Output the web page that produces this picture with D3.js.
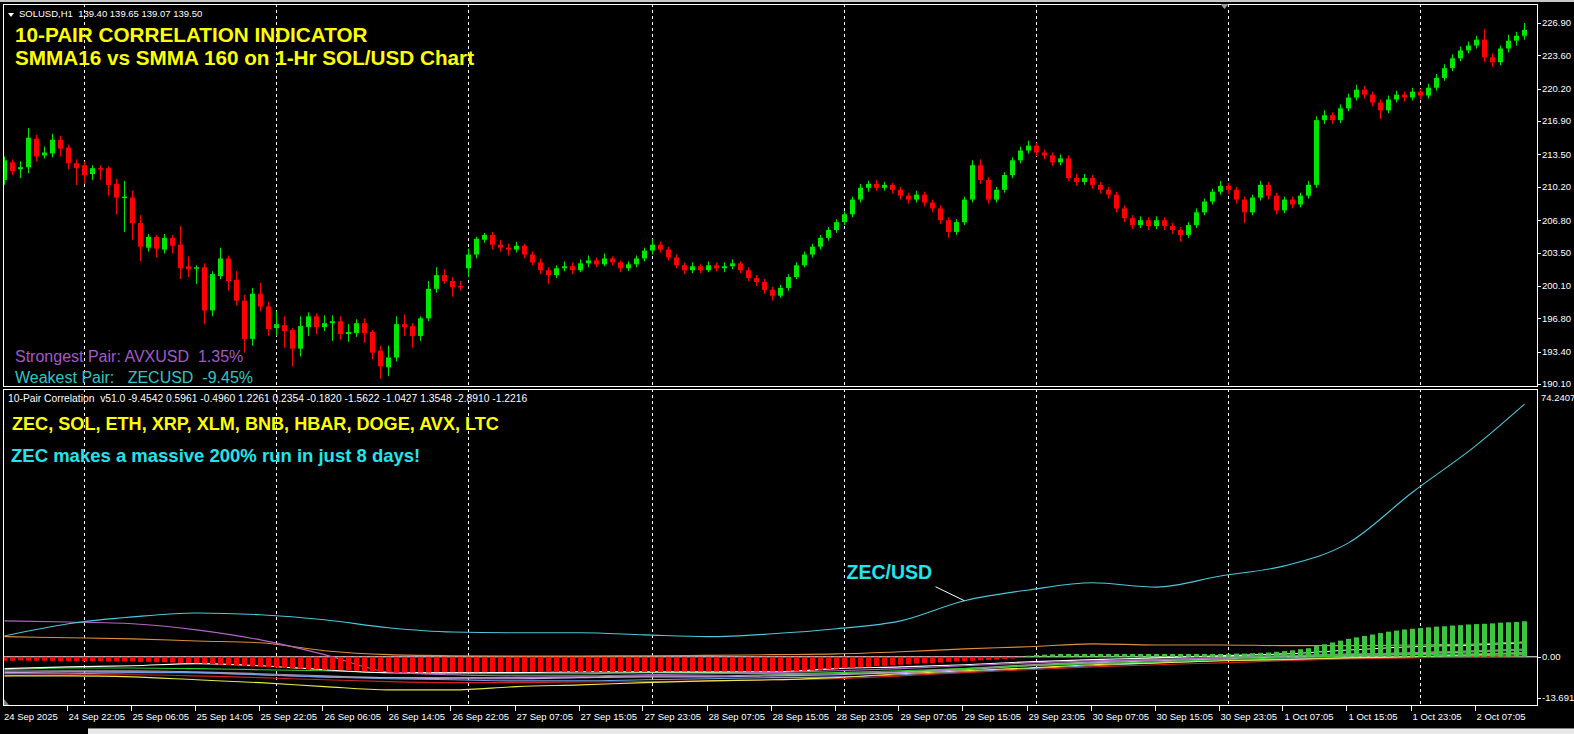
<!DOCTYPE html>
<html><head><meta charset="utf-8">
<script src="https://cdn.jsdelivr.net/npm/d3@7"></script>
<style>
html,body{margin:0;padding:0;background:#000;overflow:hidden}
svg{display:block}
text{font-family:"Liberation Sans",Arial,sans-serif}
</style></head><body>
<svg id="c" width="1574" height="734"></svg>
<script>
// ---------- DATA ----------
// SOLUSD H1 candles [open, high, low, close]
const candles = [
[210.9,213.3,210.4,212.9],[212.7,213.0,211.4,211.8],[212.0,212.8,211.1,212.2],[212.2,216.2,211.6,215.2],[215.1,215.5,212.8,213.3],
[213.4,214.3,213.1,213.7],[213.6,215.6,213.2,215.0],[215.0,215.4,213.3,214.1],[214.2,214.5,212.0,212.6],[212.6,213.0,210.4,212.1],
[212.4,212.8,210.5,211.4],[211.5,212.4,210.9,212.1],[212.1,212.4,210.9,212.0],[212.1,212.3,209.3,210.4],[210.5,211.0,207.4,209.1],
[209.1,210.8,205.6,209.2],[209.1,209.8,204.8,206.5],[206.5,207.3,202.6,204.1],[204.0,205.4,203.6,205.1],[205.1,205.3,203.0,203.9],
[203.8,205.4,203.4,205.0],[205.0,205.3,203.4,204.2],[204.3,206.2,200.8,201.9],[202.1,203.1,201.0,201.8],[201.9,202.2,200.3,202.0],
[202.0,202.4,196.2,197.6],[197.6,201.6,197.0,201.3],[201.1,204.0,200.8,202.9],[202.9,203.2,199.6,200.6],[200.7,201.6,198.1,198.6],
[198.6,199.2,193.3,194.7],[194.7,199.9,194.0,199.3],[199.3,200.4,197.5,198.0],[198.0,198.5,195.0,195.7],[195.8,197.5,195.0,196.2],
[196.1,197.0,193.8,195.5],[195.6,195.8,191.9,193.7],[193.7,197.0,192.9,196.0],[195.9,197.4,195.0,197.0],[197.0,197.3,195.2,195.9],
[195.9,197.1,195.5,196.3],[196.3,197.1,194.5,196.5],[196.5,197.0,194.6,195.2],[195.2,196.2,194.4,195.4],[195.3,196.7,194.9,196.3],
[196.3,196.8,194.3,195.3],[195.4,195.6,192.6,193.3],[193.5,194.0,190.6,191.9],[191.8,194.0,190.9,192.8],[192.8,197.0,192.4,196.2],
[196.2,197.2,195.0,195.9],[196.0,196.3,193.8,195.0],[195.0,197.0,194.5,196.8],[196.8,200.6,196.5,199.8],[199.8,202.0,199.4,201.2],
[201.2,201.8,200.3,200.6],[200.6,201.0,199.0,200.0],[200.1,200.6,199.6,200.0],[201.9,203.9,201.0,203.3],[203.3,205.1,202.9,204.9],
[204.8,205.5,204.5,205.3],[205.3,205.6,203.8,204.3],[204.3,204.8,203.6,204.0],[204.0,204.4,203.2,203.8],[203.8,204.6,203.5,204.2],
[204.2,204.4,202.9,203.3],[203.3,203.6,202.2,202.5],[202.5,202.9,201.3,201.7],[201.7,202.0,200.3,201.2],[201.2,202.2,200.9,201.9],
[201.9,202.6,201.6,202.1],[202.1,202.5,201.3,201.7],[201.7,202.8,201.5,202.4],[202.4,203.2,202.0,202.7],[202.7,203.0,202.0,202.3],
[202.3,203.4,202.1,202.9],[202.9,203.1,202.2,202.5],[202.5,202.7,201.5,201.9],[201.9,202.6,201.6,202.3],[202.3,203.2,202.0,202.9],
[202.9,204.0,202.6,203.7],[203.7,204.9,203.3,204.3],[204.3,204.6,203.5,203.8],[203.8,204.1,202.7,203.0],[203.0,203.3,201.9,202.2],
[202.2,202.5,201.3,201.7],[201.7,202.5,201.4,202.1],[202.1,202.3,201.4,201.7],[201.7,202.6,201.5,202.2],[202.2,202.5,201.6,201.9],
[201.9,202.5,201.5,202.1],[202.1,202.8,201.8,202.4],[202.4,202.6,201.4,201.7],[201.7,202.0,200.6,200.9],[200.9,201.2,200.1,200.5],
[200.5,200.8,199.3,199.7],[199.7,200.0,198.6,199.1],[199.1,200.2,198.9,199.9],[199.9,201.3,199.6,201.0],[201.0,202.5,200.8,202.2],
[202.2,203.6,202.0,203.3],[203.3,204.4,203.0,204.1],[204.1,205.3,203.8,205.0],[205.0,206.1,204.7,205.8],[205.8,206.9,205.5,206.6],
[206.6,207.7,206.3,207.4],[207.4,209.2,207.1,208.9],[208.9,210.5,208.6,210.1],[210.1,210.8,209.7,210.5],[210.5,210.9,209.8,210.1],
[210.1,210.7,209.8,210.4],[210.4,210.6,209.5,209.9],[209.9,210.2,208.9,209.3],[209.3,209.6,208.5,208.9],[208.9,209.8,208.6,209.4],
[209.4,209.7,208.2,208.6],[208.6,208.9,207.6,208.0],[208.0,208.3,206.4,206.8],[206.8,207.1,205.0,205.6],[205.6,206.9,205.3,206.6],
[206.6,209.2,206.3,208.9],[208.9,212.9,208.6,212.4],[212.4,213.0,210.5,210.9],[210.9,211.2,208.5,208.9],[208.9,210.2,208.6,209.9],
[209.9,211.7,209.6,211.4],[211.4,213.2,211.1,212.9],[212.9,214.3,212.6,213.9],[213.9,214.9,213.6,214.4],[214.4,214.7,213.3,213.7],
[213.7,214.0,213.0,213.4],[213.4,213.7,212.3,212.7],[212.7,213.5,212.4,213.1],[213.1,213.4,210.8,211.1],[211.1,211.5,210.3,210.7],
[210.7,211.5,210.4,211.1],[211.1,211.4,210.0,210.4],[210.4,210.7,209.5,209.9],[209.9,210.2,209.0,209.4],[209.4,209.7,207.6,208.0],
[208.0,208.3,206.6,207.0],[207.0,207.3,205.9,206.3],[206.3,207.2,206.0,206.8],[206.8,207.1,205.8,206.2],[206.2,207.2,205.9,206.8],
[206.8,207.1,205.8,206.2],[206.2,206.5,205.4,205.8],[205.8,206.1,204.6,205.3],[205.3,206.6,205.0,206.3],[206.3,208.0,206.0,207.6],
[207.6,209.0,207.3,208.7],[208.7,210.0,208.4,209.7],[209.7,210.8,209.4,210.3],[210.3,210.6,209.5,209.9],[209.9,210.2,208.5,208.9],
[208.9,209.2,206.5,207.6],[207.6,209.4,207.3,209.1],[209.1,210.8,208.8,210.4],[210.4,210.7,208.9,209.3],[209.3,209.6,207.4,207.8],
[207.8,209.2,207.5,208.9],[208.9,209.2,208.0,208.4],[208.4,209.6,208.1,209.3],[209.3,210.8,209.0,210.4],[210.4,217.4,210.1,217.0],
[217.0,218.0,216.6,217.5],[217.5,217.8,216.6,217.0],[217.0,218.6,216.7,218.2],[218.2,219.7,217.9,219.3],[219.3,220.6,219.0,220.1],
[220.1,220.5,219.2,219.6],[219.6,219.9,218.4,218.8],[218.8,219.1,217.1,218.0],[218.0,219.5,217.7,219.1],[219.1,220.0,218.8,219.6],
[219.6,219.9,218.9,219.3],[219.3,220.3,219.0,219.9],[219.9,220.2,219.1,219.5],[219.5,220.7,219.2,220.3],[220.3,221.7,220.0,221.3],
[221.3,222.7,221.0,222.3],[222.3,223.7,222.0,223.3],[223.3,224.5,223.0,224.1],[224.1,225.0,223.8,224.6],[224.6,225.6,224.3,225.2],
[225.2,226.3,222.9,223.4],[223.4,223.8,222.4,222.9],[222.9,224.6,222.6,224.3],[224.3,225.7,223.9,225.1],[225.1,226.0,224.6,225.6],
[225.6,226.9,225.2,226.2]
];

// Correlation histogram (one value per bar)
const histogram = [
-1.1,-1.1,-1.0,-1.1,-1.1,-1.1,-1.1,-1.2,-1.2,-1.2,
-1.2,-1.2,-1.2,-1.3,-1.3,-1.3,-1.3,-1.4,-1.4,-1.5,
-1.5,-1.6,-1.7,-1.7,-1.8,-1.9,-2.0,-2.2,-2.3,-2.4,
-2.6,-2.7,-2.8,-2.9,-3.0,-3.1,-3.2,-3.3,-3.4,-3.5,
-3.6,-3.6,-3.7,-3.8,-3.9,-4.0,-4.1,-4.2,-4.3,-4.4,
-4.4,-4.4,-4.4,-4.4,-4.3,-4.3,-4.3,-4.3,-4.3,-4.3,
-4.3,-4.2,-4.2,-4.2,-4.2,-4.2,-4.2,-4.2,-4.2,-4.2,
-4.2,-4.2,-4.2,-4.2,-4.2,-4.2,-4.2,-4.2,-4.2,-4.2,
-4.2,-4.2,-4.2,-4.1,-4.1,-4.1,-4.1,-4.1,-4.1,-4.1,
-4.1,-4.1,-4.1,-4.1,-4.1,-4.1,-4.1,-4.1,-4.0,-4.0,
-3.9,-3.8,-3.6,-3.4,-3.3,-3.1,-3.0,-2.9,-2.8,-2.6,
-2.5,-2.3,-2.2,-2.1,-1.9,-1.8,-1.7,-1.6,-1.4,-1.3,
-1.2,-1.1,-1.0,-0.9,-0.8,-0.6,-0.5,-0.3,0.3,0.5,
0.6,0.7,0.8,0.8,0.8,0.8,0.8,0.8,0.8,0.8,
0.8,0.8,0.8,0.8,0.8,0.8,0.8,0.8,0.8,0.8,
0.8,0.8,0.8,0.8,0.9,0.9,1.0,1.1,1.2,1.4,
1.6,1.8,2.1,2.4,3.0,3.5,4.0,4.5,5.0,5.4,
5.8,6.2,6.6,7.0,7.3,7.6,7.8,8.0,8.2,8.4,
8.5,8.7,8.8,9.0,9.1,9.2,9.3,9.5,9.6,9.7,
9.9
];

// Pair lines, sampled every 8 bars
const sampleBars = [0,8,16,24,32,40,48,56,64,72,80,88,96,104,112,120,128,136,144,152,160,168,176,184,190];
const pairNames  = ["ZEC","SOL","ETH","XRP","XLM","BNB","HBAR","DOGE","AVX","LTC"];
const pairColors = ["#4cc8da","#e08c3c","#ffffff","#33cc33","#e8e84a","#cc2222","#6aa0e6","#c8a0e0","#b464c8","#9a9a9a"];
const zecValues  = [5.8,9.2,11.1,12.2,11.7,10.3,8.1,6.9,6.7,6.7,6.1,5.6,6.4,7.8,10.0,15.6,18.6,20.6,19.4,22.5,25.3,31.7,45.8,58.9,70.3];
const solValues  = [5.6,5.3,5.0,4.4,3.9,1.7,0.6,0.3,0.2,0.2,0.3,0.4,0.6,0.8,1.4,2.2,2.8,3.6,3.3,3.3,3.1,3.1,3.3,3.6,4.2];
const ethValues  = [-3.3,-2.8,-2.5,-1.9,-2.5,-3.6,-4.4,-4.4,-4.4,-4.2,-4.2,-4.2,-4.2,-3.3,-2.8,-2.2,-1.4,-0.8,-0.3,0.3,0.8,1.9,2.8,3.3,3.9];
const xrpValues  = [-3.6,-3.1,-3.1,-3.3,-3.6,-3.9,-4.4,-4.7,-4.7,-4.7,-4.4,-4.4,-4.7,-4.4,-3.9,-3.3,-2.5,-1.9,-1.4,-0.8,-0.3,0.3,0.6,0.8,1.1];
const xlmValues  = [-5.3,-5.3,-5.6,-6.4,-7.2,-8.3,-9.2,-9.2,-8.3,-7.8,-7.2,-6.7,-6.4,-5.8,-4.7,-3.9,-3.1,-2.2,-1.7,-1.1,-0.8,-0.3,0.0,0.6,1.1];
const bnbValues  = [-5.3,-5.0,-5.0,-5.3,-5.8,-6.4,-6.9,-7.2,-7.2,-7.0,-6.9,-6.7,-6.4,-6.1,-5.3,-4.4,-3.6,-2.8,-2.2,-1.7,-1.1,-0.6,-0.3,0.0,0.3];
const hbarValues = [-4.7,-4.7,-4.4,-4.4,-5.0,-5.6,-6.1,-6.4,-6.7,-6.7,-6.4,-6.1,-5.8,-5.6,-5.0,-4.2,-3.3,-2.5,-1.7,-1.1,-0.6,-0.3,0.0,0.3,0.6];
const dogeValues = [-4.4,-4.2,-4.2,-4.4,-5.0,-5.6,-5.8,-6.1,-6.1,-5.8,-5.6,-5.6,-5.3,-5.0,-4.4,-3.6,-2.5,-1.7,-1.1,-0.6,0.0,0.3,0.8,1.4,1.9];
const avxValues  = [10.0,9.7,9.2,7.5,4.7,0.6,-4.2,-5.0,-5.3,-5.3,-5.0,-4.7,-4.4,-3.9,-3.3,-2.5,-1.7,-1.1,-0.8,-0.3,0.3,0.8,1.1,1.7,1.9];
const ltcValues  = [-4.0,-3.9,-3.9,-4.2,-4.7,-5.3,-5.8,-5.8,-5.8,-5.6,-5.3,-5.3,-5.0,-4.7,-4.2,-3.3,-2.2,-1.4,-0.8,-0.3,0.3,0.6,1.1,1.7,2.2];

// Axes
const priceTicks = [226.90,223.60,220.20,216.90,213.50,210.20,206.80,203.50,200.10,196.80,193.40,190.10];
const priceDomain = [190.10,226.90];
const indDomain = [-13.691,74.2407];
const timeLabels = ["24 Sep 2025","24 Sep 22:05","25 Sep 06:05","25 Sep 14:05","25 Sep 22:05","26 Sep 06:05","26 Sep 14:05","26 Sep 22:05","27 Sep 07:05","27 Sep 15:05","27 Sep 23:05","28 Sep 07:05","28 Sep 15:05","28 Sep 23:05","29 Sep 07:05","29 Sep 15:05","29 Sep 23:05","30 Sep 07:05","30 Sep 15:05","30 Sep 23:05","1 Oct 07:05","1 Oct 15:05","1 Oct 23:05","2 Oct 07:05"];
const timeLabelBars = [0,8,16,24,32,40,48,56,64,72,80,88,96,104,112,120,128,136,144,152,160,168,176,184];
const daySeparatorBars = [10,34,58,81,105,129,153,177];

// Texts
const chartHeader = "SOLUSD,H1  139.40 139.65 139.07 139.50";
const titleLines = ["10-PAIR CORRELATION INDICATOR","SMMA16 vs SMMA 160 on 1-Hr SOL/USD Chart"];
const strongestText = "Strongest Pair: AVXUSD  1.35%";
const weakestText = "Weakest Pair:   ZECUSD  -9.45%";
const indicatorHeader = "10-Pair Correlation  v51.0 -9.4542 0.5961 -0.4960 1.2261 0.2354 -0.1820 -1.5622 -1.0427 1.3548 -2.8910 -1.2216";
const pairsLine = "ZEC, SOL, ETH, XRP, XLM, BNB, HBAR, DOGE, AVX, LTC";
const zecNote = "ZEC makes a massive 200% run in just 8 days!";
const zecAnnotation = {text:"ZEC/USD", bar:120, value:15.6};

// ---------- DRAW ----------
const svg = d3.select("#c");
const W = 1574;
const mainTop = 4, mainBottom = 386, indTop = 389, indBottom = 705, plotLeft = 3, plotRight = 1537;

const x = d3.scaleLinear().domain([0,190]).range([4.5,1524.5]);
const yP = d3.scaleLinear().domain(priceDomain).range([384,23]);
const yI = d3.scaleLinear().domain(indDomain).range([706,390]);

svg.append("rect").attr("x",0).attr("y",0).attr("width",W).attr("height",734).attr("fill","#000");
svg.append("rect").attr("x",0).attr("y",0).attr("width",W).attr("height",2).attr("fill","#c8c8c8");

svg.append("clipPath").attr("id","cm").append("rect")
  .attr("x",plotLeft).attr("y",mainTop).attr("width",plotRight-plotLeft).attr("height",mainBottom-mainTop);
svg.append("clipPath").attr("id","ci").append("rect")
  .attr("x",plotLeft).attr("y",indTop).attr("width",plotRight-plotLeft).attr("height",indBottom-indTop);

// separators
const sepG = svg.append("g");
[[mainTop,mainBottom],[indTop,indBottom]].forEach(([a,b])=>{
  sepG.selectAll(null).data(daySeparatorBars).enter().append("line")
    .attr("x1",d=>x(d)).attr("x2",d=>x(d)).attr("y1",a).attr("y2",b)
    .attr("stroke","#ffffff").attr("stroke-width",1).attr("stroke-dasharray","3,3");
});

// candles
const cg = svg.append("g").attr("clip-path","url(#cm)");
const up = d => d[3] >= d[0];
const cGreen = "#00e600", cRed = "#ff0000";
cg.selectAll(".wick").data(candles).enter().append("line")
  .attr("x1",(d,i)=>x(i)).attr("x2",(d,i)=>x(i))
  .attr("y1",d=>yP(d[1])).attr("y2",d=>yP(d[2]))
  .attr("stroke",d=>up(d)?cGreen:cRed).attr("stroke-width",1);
cg.selectAll(".body").data(candles).enter().append("rect")
  .attr("x",(d,i)=>x(i)-2.5).attr("width",5)
  .attr("y",d=>Math.min(yP(d[0]),yP(d[3])))
  .attr("height",d=>Math.max(1.5,Math.abs(yP(d[0])-yP(d[3]))))
  .attr("fill",d=>up(d)?cGreen:cRed);

// indicator lines
const ig = svg.append("g").attr("clip-path","url(#ci)");
ig.append("line").attr("x1",plotLeft).attr("x2",plotRight).attr("y1",yI(0)).attr("y2",yI(0))
  .attr("stroke","#ffffff").attr("stroke-width",1);
const allSeries = [zecValues,solValues,ethValues,xrpValues,xlmValues,bnbValues,hbarValues,dogeValues,avxValues,ltcValues];
const line = d3.line().x(d=>x(d[0])).y(d=>yI(d[1])).curve(d3.curveMonotoneX);
const drawOrder = [9,7,6,5,4,3,2,1,8,0];
drawOrder.forEach(k=>{
  const pts = sampleBars.map((b,j)=>[b,allSeries[k][j]]);
  ig.append("path").attr("d",line(pts)).attr("fill","none")
    .attr("stroke",pairColors[k]).attr("stroke-width",1.1).attr("data-pair",pairNames[k]);
});
// histogram
ig.selectAll(".hb").data(histogram).enter().append("rect")
  .attr("x",(d,i)=>x(i)-2.5).attr("width",5)
  .attr("y",d=>d>=0?yI(d):yI(0))
  .attr("height",d=>Math.max(1,Math.abs(yI(d)-yI(0))))
  .attr("fill",d=>d>=0?"#3ec43e":"#ff0000");

// panel borders
svg.append("rect").attr("x",plotLeft+0.5).attr("y",mainTop+0.5).attr("width",plotRight-plotLeft).attr("height",mainBottom-mainTop)
  .attr("fill","none").attr("stroke","#ffffff");
svg.append("rect").attr("x",plotLeft+0.5).attr("y",indTop+0.5).attr("width",plotRight-plotLeft).attr("height",indBottom-indTop)
  .attr("fill","none").attr("stroke","#ffffff");

// price axis
const axG = svg.append("g").attr("font-size","9.5px").attr("fill","#ffffff");
priceTicks.forEach(p=>{
  axG.append("line").attr("x1",plotRight).attr("x2",plotRight+4).attr("y1",Math.round(yP(p))+0.5).attr("y2",Math.round(yP(p))+0.5).attr("stroke","#fff");
  axG.append("text").attr("x",plotRight+5).attr("y",yP(p)).attr("dy","0.35em").text(p.toFixed(2));
});
// indicator axis
axG.append("text").attr("x",plotRight+4).attr("y",yI(indDomain[1])+8).attr("dy","0.35em").text(indDomain[1].toFixed(4));
axG.append("line").attr("x1",plotRight).attr("x2",plotRight+4).attr("y1",Math.round(yI(0))+0.5).attr("y2",Math.round(yI(0))+0.5).attr("stroke","#fff");
axG.append("text").attr("x",plotRight+5).attr("y",yI(0)).attr("dy","0.35em").text("0.00");
axG.append("line").attr("x1",plotRight).attr("x2",plotRight+4).attr("y1",yI(indDomain[0])-7.5).attr("y2",yI(indDomain[0])-7.5).attr("stroke","#fff");
axG.append("text").attr("x",plotRight+5).attr("y",yI(indDomain[0])-8).attr("dy","0.35em").text(indDomain[0].toFixed(3));

// time axis
const tG = svg.append("g").attr("font-size","9.5px").attr("fill","#ffffff");
timeLabels.forEach((t,k)=>{
  const bx = x(timeLabelBars[k]);
  if(k>0) tG.append("line").attr("x1",Math.round(bx)-1.5).attr("x2",Math.round(bx)-1.5).attr("y1",indBottom+1).attr("y2",indBottom+6).attr("stroke","#fff");
  tG.append("text").attr("x",k===0?4:bx).attr("y",720).text(t);
});

// bottom strip
svg.append("rect").attr("x",0).attr("y",728).attr("width",W).attr("height",6).attr("fill","#e8e8e8");
svg.append("rect").attr("x",0).attr("y",728).attr("width",88).attr("height",6).attr("fill","#000");
svg.append("line").attr("x1",88).attr("x2",W).attr("y1",728.5).attr("y2",728.5).attr("stroke","#808080");

// markers
svg.append("path").attr("d",`M${x(152.5)-4},4 L${x(152.5)+4},4 L${x(152.5)},9 Z`).attr("fill","#9a9a9a");
svg.append("path").attr("d","M4,699 L4,705 L9,705 Z").attr("fill","#808080");

// header texts
svg.append("path").attr("d","M8,13 L14,13 L11,17 Z").attr("fill","#ffffff");
svg.append("text").attr("x",19).attr("y",17).attr("font-size","9.5px").attr("fill","#ffffff").text(chartHeader).style("white-space","pre");
svg.append("text").attr("x",15).attr("y",42).attr("font-size","20.7px").attr("font-weight","bold").attr("fill","#ffff00").text(titleLines[0]);
svg.append("text").attr("x",15).attr("y",65).attr("font-size","20.7px").attr("font-weight","bold").attr("fill","#ffff00").text(titleLines[1]);
svg.append("text").attr("x",15).attr("y",362).attr("font-size","16px").attr("fill","#a35ac8").text(strongestText).style("white-space","pre");
svg.append("text").attr("x",15).attr("y",383).attr("font-size","16px").attr("fill","#2fc6c6").text(weakestText).style("white-space","pre");
svg.append("text").attr("x",8).attr("y",402).attr("font-size","10.3px").attr("fill","#ffffff").text(indicatorHeader).style("white-space","pre");
svg.append("text").attr("x",12).attr("y",430).attr("font-size","18.1px").attr("font-weight","bold").attr("fill","#ffff00").text(pairsLine);
svg.append("text").attr("x",11).attr("y",462).attr("font-size","18.5px").attr("font-weight","bold").attr("fill","#22e4ee").text(zecNote);

// ZEC annotation
const ax = x(zecAnnotation.bar), ay = yI(zecAnnotation.value);
svg.append("line").attr("x1",ax-29).attr("y1",ay-14).attr("x2",ax).attr("y2",ay).attr("stroke","#ffffff").attr("stroke-width",1);
svg.append("text").attr("x",ax-118).attr("y",ay-22).attr("font-size","19.5px").attr("font-weight","bold").attr("fill","#22e4ee").text(zecAnnotation.text);
</script>
</body></html>
